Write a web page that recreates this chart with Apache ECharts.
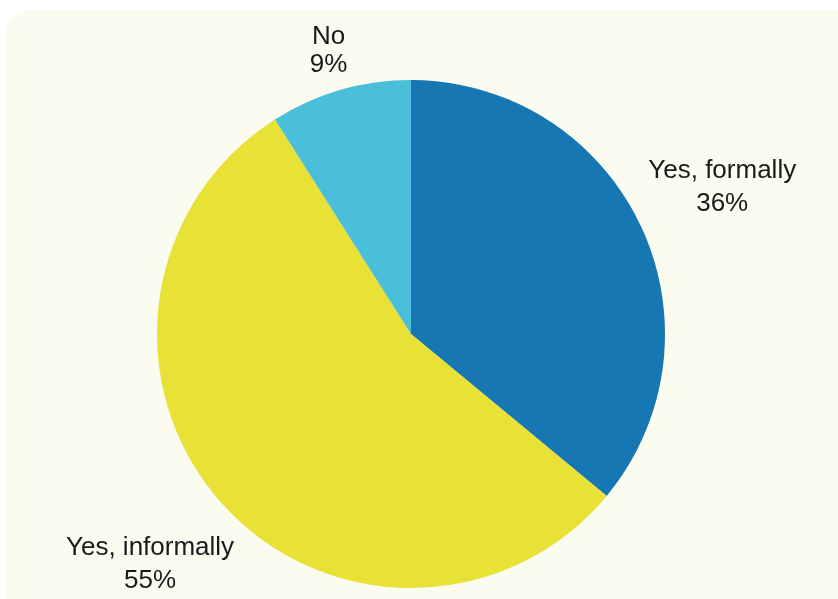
<!DOCTYPE html>
<html>
<head>
<meta charset="utf-8">
<script src="https://cdn.jsdelivr.net/npm/echarts@6/dist/echarts.min.js"></script>
<style>
  html, body { margin: 0; padding: 0; background: #ffffff; }
  #chart { width: 838px; height: 599px; }
</style>
</head>
<body>
<div id="chart"></div>
<script>
// Survey answers and their shares (percent)
const categories = ['Yes, formally', 'Yes, informally', 'No'];
const shares = [36, 55, 9];
const sliceColors = ['#1677b3', '#e8e236', '#4bbed9'];

// Pie geometry
const cx = 411, cy = 334, radius = 254, labelGap = 9;

// Mid angle of each slice (radians, counter-clockwise from +x), starting at 12 o'clock, clockwise
const total = shares.reduce((a, b) => a + b, 0);
const midAngles = [];
let acc = 0;
shares.forEach(v => {
  midAngles.push(Math.PI / 2 - 2 * Math.PI * (acc + v / 2) / total);
  acc += v;
});

const chart = echarts.init(document.getElementById('chart'), null, { renderer: 'canvas' });

chart.setOption({
  backgroundColor: '#ffffff',
  animation: false,
  graphic: [{
    type: 'rect',
    z: -10,
    shape: { x: 5, y: 10, width: 880, height: 640, r: 25 },
    style: { fill: '#fbfbf0' }
  }],
  series: [{
    type: 'pie',
    center: [cx, cy],
    radius: radius,
    startAngle: 90,
    clockwise: true,
    silent: true,
    data: categories.map((name, i) => ({
      name: name,
      value: shares[i],
      itemStyle: { color: sliceColors[i] },
      // the short top label is set a little tighter
      label: name === 'No' ? { lineHeight: 28 } : undefined
    })),
    label: {
      show: true,
      position: 'inside',
      formatter: '{b}\n{c}%',
      fontFamily: '"Liberation Sans", Arial, sans-serif',
      fontSize: 26,
      lineHeight: 33,
      color: '#1a1a1a',
      textBorderWidth: 0
    },
    labelLine: { show: false },
    // Place each label just outside its slice, along the slice's mid direction
    labelLayout: function (p) {
      const a = midAngles[p.dataIndex];
      const w = p.labelRect.width, h = p.labelRect.height;
      const d = radius + labelGap + Math.abs(Math.cos(a)) * w / 2 + Math.abs(Math.sin(a)) * h / 2;
      return {
        x: cx + d * Math.cos(a),
        y: cy - d * Math.sin(a),
        align: 'center',
        verticalAlign: 'middle'
      };
    }
  }]
});
</script>
</body>
</html>
